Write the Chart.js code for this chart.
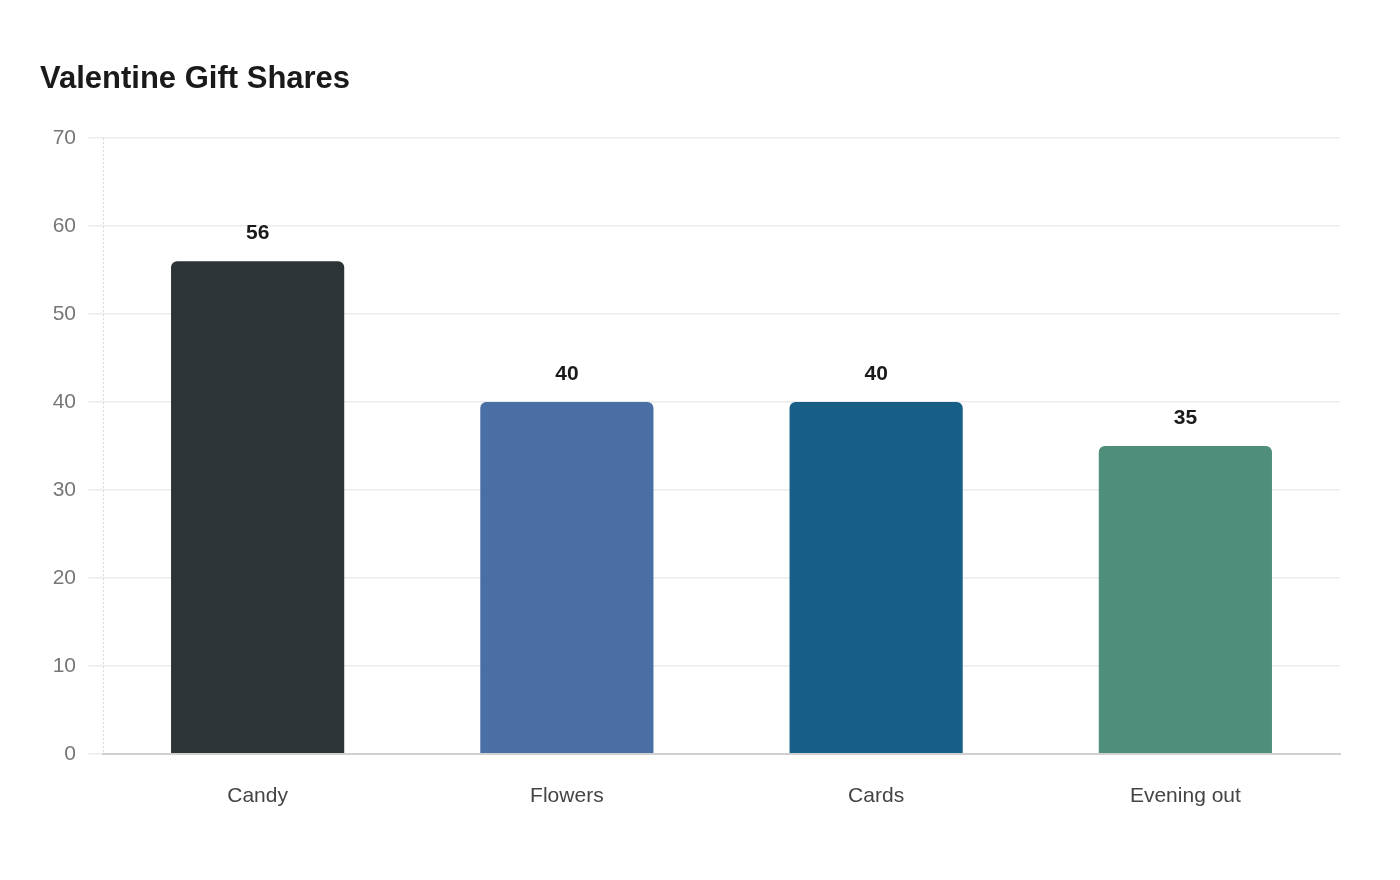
<!DOCTYPE html>
<html>
<head>
<meta charset="utf-8">
<script src="https://cdn.jsdelivr.net/npm/chart.js@4/dist/chart.umd.min.js"></script>
<style>
  html, body { margin: 0; padding: 0; background: #ffffff; }
  #wrap { width: 1400px; height: 880px; position: relative; }
</style>
</head>
<body>
<div id="wrap"><canvas id="c"></canvas></div>
<script>
const chartTitle = "Valentine Gift Shares";
const categories = ["Candy", "Flowers", "Cards", "Evening out"];
const shares = [56, 40, 40, 35];
const barColors = ["#2d3436", "#4a6fa5", "#185f87", "#4e8e7a"];
const yTicks = { min: 0, max: 70, step: 10 };

const valueLabels = {
  id: 'valueLabels',
  afterDatasetsDraw(chart) {
    const ctx = chart.ctx;
    const meta = chart.getDatasetMeta(0);
    ctx.save();
    ctx.font = "bold 21px 'Liberation Sans', Arial, sans-serif";
    ctx.fillStyle = "#1a1a1a";
    ctx.textAlign = "center";
    ctx.textBaseline = "alphabetic";
    meta.data.forEach((bar, i) => {
      ctx.fillText(String(shares[i]), bar.x, bar.y - 22);
    });
    ctx.restore();
  }
};

const dottedYAxis = {
  id: 'dottedYAxis',
  beforeDatasetsDraw(chart) {
    const ctx = chart.ctx;
    const a = chart.chartArea;
    ctx.save();
    ctx.strokeStyle = '#d8d8d8';
    ctx.lineWidth = 1;
    ctx.setLineDash([2, 2]);
    ctx.beginPath();
    ctx.moveTo(a.left + 0.5, a.top);
    ctx.lineTo(a.left + 0.5, a.bottom);
    ctx.stroke();
    ctx.restore();
  }
};

new Chart(document.getElementById('c'), {
  type: 'bar',
  data: {
    labels: categories,
    datasets: [{
      data: shares,
      backgroundColor: barColors,
      borderRadius: 6,
      borderSkipped: 'start',
      categoryPercentage: 0.8,
      barPercentage: 0.7
    }]
  },
  options: {
    responsive: true,
    maintainAspectRatio: false,
    animation: false,
    layout: { padding: { left: 40, right: 60, top: 20, bottom: 41 } },
    plugins: {
      legend: { display: false },
      tooltip: { enabled: false },
      title: {
        display: true,
        text: chartTitle,
        align: 'start',
        color: '#1a1a1a',
        font: { family: "'Liberation Sans', Arial, sans-serif", size: 31, weight: 'bold' },
        padding: { top: 41, bottom: 40 }
      }
    },
    scales: {
      x: {
        grid: { display: false, drawTicks: false },
        border: { display: true, color: '#d0d0d0', width: 2 },
        ticks: {
          color: '#444444',
          padding: 30,
          font: { family: "'Liberation Sans', Arial, sans-serif", size: 21 }
        }
      },
      y: {
        min: yTicks.min,
        max: yTicks.max,
        afterFit(scale) { scale.width = 63; },
        grid: { color: '#ebebeb', lineWidth: 1.5, tickLength: 15, drawTicks: true },
        border: { display: false },
        ticks: {
          stepSize: yTicks.step,
          color: '#777777',
          padding: 12,
          font: { family: "'Liberation Sans', Arial, sans-serif", size: 21 }
        }
      }
    }
  },
  plugins: [dottedYAxis, valueLabels]
});
</script>
</body>
</html>
